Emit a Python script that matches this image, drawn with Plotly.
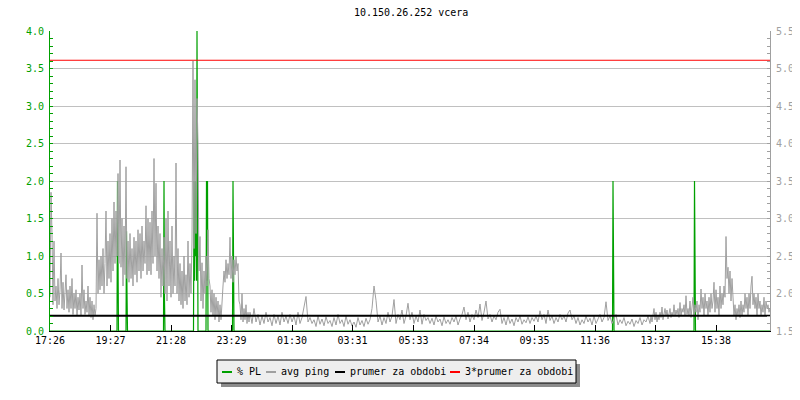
import plotly.graph_objects as go

# ---- data ----
# avg ping (ms). Busy evening part: one value every 2 min from 17:26 (minute 0..398)
ping_busy = [
    1.95, 3.35, 2.80, 1.85, 2.70, 1.90, 2.10, 1.80, 2.20, 1.85,
    2.05, 2.54, 1.80, 2.15, 1.78, 2.00, 2.25, 1.80, 2.05, 1.75,
    2.10, 1.80, 2.20, 1.72, 2.00, 1.80, 2.05, 1.70, 1.95, 1.78,
    2.00, 1.70, 2.38, 1.80, 2.05, 1.72, 1.90, 1.75, 2.10, 1.70,
    1.95, 1.68, 1.90, 1.65, 1.85, 1.70, 1.80, 3.07, 2.00, 2.45,
    2.05, 2.50, 2.10, 2.60, 2.00, 2.40, 3.10, 2.10, 2.70, 2.20,
    2.80, 2.15, 3.00, 2.30, 3.22, 2.40, 3.10, 2.50, 3.60, 2.40,
    3.78, 2.35, 3.00, 2.10, 2.90, 2.25, 3.69, 2.20, 2.70, 2.15,
    2.80, 2.20, 2.60, 2.10, 2.75, 2.25, 2.70, 2.15, 2.85, 2.30,
    2.80, 2.20, 2.90, 2.30, 2.70, 2.40, 3.17, 2.25, 3.00, 2.30,
    2.95, 2.25, 3.10, 2.40, 3.80, 2.50, 3.47, 2.30, 2.90, 2.20,
    2.80, 1.95, 2.60, 2.10, 2.75, 2.00, 3.00, 1.90, 3.10, 2.10,
    2.70, 1.95, 2.90, 2.00, 2.50, 2.10, 3.74, 2.00, 2.60, 1.90,
    2.40, 1.85, 2.30, 1.80, 2.50, 1.90, 2.25, 1.85, 2.70, 1.95,
    2.40, 2.00, 2.70, 5.10, 2.60, 4.85, 2.80, 4.60, 4.00, 2.30,
    2.76, 1.90, 2.41, 1.80, 2.30, 2.00, 2.50, 2.10, 2.85, 2.20,
    2.10, 1.75, 2.05, 1.70, 2.00, 1.65, 1.95, 1.70, 1.90, 1.62,
    1.85, 1.65, 2.00, 2.10, 2.30, 2.15, 2.45, 2.20, 2.40, 2.25,
    2.75, 2.20, 2.50, 2.15, 2.45, 2.25, 2.50, 2.30, 2.40, 1.90,
    1.85, 1.65, 2.00, 1.62, 1.80, 1.65, 1.85, 1.60, 1.75, 1.62,
]
# quiet night part: one value every 4 min (minute 400..1196)
ping_mid = [
    1.75, 1.60, 1.80, 1.62, 1.72, 1.58, 1.70, 1.60, 1.75, 1.62,
    1.68, 1.57, 1.72, 1.60, 1.70, 1.58, 1.75, 1.62, 1.70, 1.60,
    1.72, 1.62, 1.70, 1.58, 1.75, 1.60, 1.68, 1.83, 1.96, 1.62,
    1.68, 1.60, 1.65, 1.56, 1.70, 1.59, 1.66, 1.57, 1.69, 1.60,
    1.64, 1.56, 1.68, 1.58, 1.72, 1.60, 1.65, 1.56, 1.70, 1.59,
    1.65, 1.57, 1.62, 1.55, 1.68, 1.58, 1.64, 1.56, 1.67, 1.59,
    1.65, 1.80, 2.10, 1.91, 1.62, 1.70, 1.58, 1.68, 1.60, 1.75,
    1.62, 1.70, 1.92, 1.60, 1.72, 1.65, 1.78, 1.60, 1.70, 1.87,
    1.65, 1.75, 1.60, 1.70, 1.62, 1.78, 1.59, 1.72, 1.64, 1.68,
    1.60, 1.67, 1.58, 1.70, 1.62, 1.66, 1.57, 1.69, 1.60, 1.65,
    1.59, 1.68, 1.62, 1.70, 1.58, 1.66, 1.72, 1.82, 1.65, 1.75,
    1.62, 1.72, 1.65, 1.78, 1.68, 1.86, 1.64, 1.75, 1.90, 1.66,
    1.72, 1.62, 1.70, 1.65, 1.75, 1.79, 1.60, 1.68, 1.58, 1.70,
    1.60, 1.66, 1.57, 1.68, 1.62, 1.70, 1.59, 1.65, 1.61, 1.69,
    1.60, 1.68, 1.63, 1.70, 1.62, 1.77, 1.65, 1.72, 1.60, 1.78,
    1.64, 1.70, 1.60, 1.68, 1.62, 1.72, 1.65, 1.70, 1.62, 1.74,
    1.78, 1.65, 1.70, 1.60, 1.68, 1.58, 1.65, 1.60, 1.70, 1.62,
    1.67, 1.58, 1.70, 1.60, 1.65, 1.72, 1.62, 1.68, 1.89, 1.64,
    1.70, 1.60, 1.66, 1.72, 1.58, 1.65, 1.60, 1.68, 1.57, 1.63,
    1.59, 1.66, 1.56, 1.64, 1.60, 1.68, 1.58, 1.65, 1.62, 1.70,
]
# afternoon part: one value every 2 min (minute 1200..1440)
ping_tail = [
    1.60, 1.70, 1.62, 1.72, 1.80, 1.65, 1.75, 1.62, 1.70, 1.65,
    1.75, 1.68, 1.82, 1.65, 1.72, 1.80, 1.70, 1.78, 1.66, 1.75,
    1.80, 1.68, 1.75, 1.70, 1.85, 1.70, 1.78, 1.72, 1.80, 1.68,
    1.88, 1.70, 1.80, 1.75, 1.85, 1.70, 1.97, 1.72, 1.80, 1.70,
    1.90, 1.68, 1.80, 1.95, 1.70, 1.85, 1.75, 1.90, 1.65, 1.85,
    1.75, 2.06, 1.80, 1.95, 1.70, 2.00, 1.80, 1.90, 1.70, 1.95,
    1.75, 2.00, 1.80, 1.90, 2.15, 1.75, 2.05, 1.80, 1.95, 1.70,
    2.10, 1.80, 2.00, 1.85, 2.10, 1.95, 2.76, 2.20, 2.35, 2.00,
    2.30, 1.90, 2.20, 1.80, 1.70, 1.85, 1.65, 1.80, 1.70, 1.85,
    1.68, 1.90, 1.70, 1.85, 1.75, 2.00, 1.80, 1.95, 1.70, 2.00,
    1.80, 2.10, 2.23, 1.85, 2.00, 1.80, 1.95, 1.70, 2.00, 1.80,
    1.90, 1.70, 1.85, 1.75, 1.95, 1.70, 1.90, 1.80, 1.85, 1.75, 1.80,
]
avg_ping = ping_busy + ping_mid + ping_tail
ping_minutes = ([2 * i for i in range(len(ping_busy))]
                + [400 + 4 * i for i in range(len(ping_mid))]
                + [1200 + 2 * i for i in range(len(ping_tail))])

# packet loss (%), minutes from 17:26
pl_minutes = [0, 134, 135, 136, 137,
              152, 153, 154, 155,
              227, 228, 229, 230,
              287, 288, 289, 290, 291, 292, 293, 294, 295, 296,
              312, 313, 314, 315, 316,
              365, 366, 367, 368,
              1125, 1126, 1127, 1128,
              1288, 1289, 1290, 1291, 1440]
pl_values = [0, 0, 2.0, 0.67, 0,
             0, 1.33, 0.5, 0,
             0, 2.0, 0.4, 0,
             0, 2.0, 0.67, 2.0, 1.0, 2.0, 0.67, 4.0, 2.0, 0,
             0, 2.0, 0.67, 2.0, 0,
             0, 2.0, 0.8, 0,
             0, 2.0, 1.0, 0,
             0, 2.0, 1.0, 0, 0]

mean_ping = 1.703
triple_mean = 5.11

tick_minutes = [0, 121, 242, 363, 484, 605, 727, 848, 969, 1090, 1211, 1332]
tick_labels = ["17:26", "19:27", "21:28", "23:29", "01:30", "03:31",
               "05:33", "07:34", "09:35", "11:36", "13:37", "15:38"]

legend_names = ["% PL", "avg ping", "prumer za obdobi", "3*prumer za obdobi"]
colors = ["#00a000", "#a0a0a0", "#000000", "#ff0000"]

FONT = "DejaVu Sans Mono"
X0, X1 = 0, 1440

fig = go.Figure()
fig.add_trace(go.Scatter(x=pl_minutes, y=pl_values, mode="lines", yaxis="y",
                         line=dict(color=colors[0], width=1.2), name=legend_names[0],
                         showlegend=False))
fig.add_trace(go.Scatter(x=ping_minutes, y=avg_ping, mode="lines", yaxis="y2",
                         line=dict(color=colors[1], width=1), name=legend_names[1],
                         showlegend=False))
fig.add_trace(go.Scatter(x=[X0, X1], y=[mean_ping, mean_ping], mode="lines", yaxis="y2",
                         line=dict(color=colors[2], width=2), name=legend_names[2],
                         showlegend=False))
fig.add_trace(go.Scatter(x=[X0, X1], y=[triple_mean, triple_mean], mode="lines", yaxis="y2",
                         line=dict(color=colors[3], width=1), name=legend_names[3],
                         showlegend=False))

# The page body has an 8px margin, so the figure is drawn 8px smaller and
# the plot area placed at screen x 50..770, y 31..331.
OFF = 8
W, H = 800 - OFF, 400 - OFF
SL, SR, ST, SB = 50, 770, 31, 331          # plot area in screen pixels
L, T = SL - OFF, ST - OFF
R, B = W - (SR - OFF), H - (SB - OFF)
PW, PH = SR - SL, SB - ST
def px(x):
    return (x - SL) / PW
def py(y):
    return (SB - y) / PH

shapes = []
annotations = []
# shadow + box
shapes.append(dict(type="rect", xref="paper", yref="paper", x0=px(221), x1=px(580),
                   y0=py(364), y1=py(387), fillcolor="#8c8c8c", line=dict(width=0), layer="above"))
shapes.append(dict(type="rect", xref="paper", yref="paper", x0=px(217), x1=px(576),
                   y0=py(360), y1=py(383), fillcolor="#eeeeee",
                   line=dict(color="#000000", width=1), layer="above"))
item_x = [222, 266, 335, 450]
for name, col, lx in zip(legend_names, colors, item_x):
    shapes.append(dict(type="line", xref="paper", yref="paper", x0=px(lx), x1=px(lx + 10),
                       y0=py(372), y1=py(372), line=dict(color=col, width=2), layer="above"))
    annotations.append(dict(xref="paper", yref="paper", x=px(lx + 13), y=py(371.5),
                            text=name, showarrow=False, xanchor="left", yanchor="middle",
                            font=dict(family=FONT, size=10, color="#000000")))

annotations.append(dict(xref="paper", yref="paper", x=px(411), y=py(13),
                        text="10.150.26.252 vcera", showarrow=False,
                        xanchor="center", yanchor="middle",
                        font=dict(family=FONT, size=10, color="#000000")))

fig.update_layout(
    width=W, height=H,
    margin=dict(l=L, r=R, t=T, b=B, autoexpand=False),
    paper_bgcolor="white", plot_bgcolor="white",
    showlegend=False,
    font=dict(family=FONT, size=10),
    xaxis=dict(range=[X0, X1], tickvals=tick_minutes, ticktext=tick_labels,
               automargin=False,
               showgrid=False, zeroline=False, showline=True, linecolor="#000000",
               linewidth=1, ticks="inside", ticklen=6, tickcolor="#000000",
               tickfont=dict(family=FONT, size=10, color="#000000")),
    yaxis=dict(range=[0, 4], dtick=0.5, tickformat=".1f", showgrid=True,
               automargin=False, ticklabelstandoff=3,
               gridcolor="#c0c0c0", gridwidth=1, zeroline=False, showline=True,
               linecolor="#00a000", linewidth=1, ticks="inside", ticklen=3,
               tickcolor="#00a000",
               minor=dict(dtick=0.1, ticks="inside", ticklen=3, tickcolor="#00a000",
                          showgrid=False),
               tickfont=dict(family=FONT, size=10, color="#00a000")),
    yaxis2=dict(range=[1.5, 5.5], dtick=0.5, tickformat=".1f", overlaying="y",
                automargin=False, ticklabelstandoff=3,
                side="right", showgrid=False, zeroline=False, showline=True,
                linecolor="#a0a0a0", linewidth=1, ticks="inside", ticklen=3,
                tickcolor="#a0a0a0",
                minor=dict(dtick=0.1, ticks="inside", ticklen=3, tickcolor="#a0a0a0",
                           showgrid=False),
                tickfont=dict(family=FONT, size=10, color="#a0a0a0")),
    shapes=shapes,
    annotations=annotations,
)

fig.write_html("out.html")
